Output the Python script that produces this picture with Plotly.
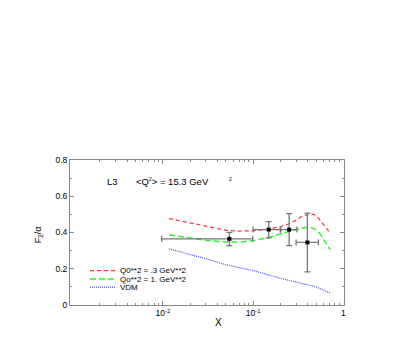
import plotly.graph_objects as go

# data points
pt_x = [0.0546, 0.149, 0.251, 0.40]
pt_y = [0.365, 0.416, 0.416, 0.345]
pt_xlo = [0.0097, 0.100, 0.200, 0.300]
pt_xhi = [0.099, 0.203, 0.306, 0.53]
pt_ylo = [0.328, 0.370, 0.328, 0.183]
pt_yhi = [0.401, 0.460, 0.504, 0.507]

# curves
red_x = [0.0117, 0.015, 0.02, 0.03, 0.05, 0.07, 0.1, 0.15, 0.2, 0.25, 0.3, 0.35, 0.42, 0.47, 0.53, 0.58, 0.65, 0.72]
red_y = [0.477, 0.465, 0.452, 0.435, 0.412, 0.408, 0.41, 0.42, 0.432, 0.448, 0.468, 0.49, 0.503, 0.5, 0.48, 0.455, 0.42, 0.395]
grn_x = [0.0117, 0.015, 0.02, 0.03, 0.05, 0.07, 0.1, 0.15, 0.2, 0.25, 0.3, 0.35, 0.42, 0.48, 0.55, 0.62, 0.68, 0.72]
grn_y = [0.387, 0.378, 0.368, 0.357, 0.348, 0.347, 0.355, 0.372, 0.392, 0.405, 0.415, 0.425, 0.43, 0.42, 0.395, 0.35, 0.32, 0.306]
vdm_x = [0.0117, 0.02, 0.03, 0.05, 0.1, 0.2, 0.3, 0.5, 0.72]
vdm_y = [0.31, 0.28, 0.255, 0.222, 0.19, 0.148, 0.128, 0.1, 0.065]

x_tickvals = [0.01, 0.1, 1]
x_ticktext = ["10<sup>-2</sup>", "10<sup>-1</sup>", "1"]
y_tickvals = [0, 0.2, 0.4, 0.6, 0.8]
y_ticktext = ["0", "0.2", "0.4", "0.6", "0.8"]

legend_names = ["Q0**2 = .3 GeV**2", "Qo**2 = 1. GeV**2", "VDM"]
legend_colors = ["#ff3333", "#33ee33", "#4d4dff"]
dashes = ["4px,3px", "6px,3px", "1px,1px"]

# plot-area geometry in page pixels (page has an 8px body margin)
PL, PR, PT, PB = 70, 344, 159.5, 305
OFF = 8
W, H = PR - PL, PB - PT

def px(xp):
    return (xp - PL) / W

def py(yp):
    return (PB - yp) / H

fig = go.Figure()
fig.add_trace(go.Scatter(x=red_x, y=red_y, mode="lines", line=dict(color=legend_colors[0], width=1.2, dash=dashes[0]), showlegend=False))
fig.add_trace(go.Scatter(x=grn_x, y=grn_y, mode="lines", line=dict(color=legend_colors[1], width=1.5, dash=dashes[1]), showlegend=False))
fig.add_trace(go.Scatter(x=vdm_x, y=vdm_y, mode="lines", line=dict(color=legend_colors[2], width=1.2, dash=dashes[2]), showlegend=False))

fig.add_trace(go.Scatter(
    x=pt_x, y=pt_y, mode="markers",
    marker=dict(color="black", size=4, symbol="square"),
    error_x=dict(type="data", symmetric=False,
                 array=[h - x for h, x in zip(pt_xhi, pt_x)],
                 arrayminus=[x - l for l, x in zip(pt_xlo, pt_x)],
                 color="#777777", thickness=1.3, width=3),
    error_y=dict(type="data", symmetric=False,
                 array=[h - y for h, y in zip(pt_yhi, pt_y)],
                 arrayminus=[y - l for l, y in zip(pt_ylo, pt_y)],
                 color="#777777", thickness=1.3, width=3),
    showlegend=False))

axis_col = "#888888"
tfont = dict(size=8.5, color="black", family="Liberation Sans")
fig.update_xaxes(type="log", range=[-3.03, 0.008], showgrid=False, zeroline=False,
                 showline=True, linecolor=axis_col, linewidth=1, mirror="ticks",
                 ticks="inside", ticklen=4, tickcolor=axis_col,
                 tickvals=x_tickvals, ticktext=x_ticktext, tickfont=tfont,
                 minor=dict(ticks="inside", ticklen=2, tickcolor=axis_col,
                            tickvals=[a * b for a in [0.001, 0.01, 0.1] for b in range(2, 10)]))
fig.update_yaxes(range=[0, 0.8], showgrid=False, zeroline=False,
                 showline=True, linecolor=axis_col, linewidth=1, mirror="ticks",
                 ticks="inside", ticklen=4, tickcolor=axis_col,
                 tickvals=y_tickvals, ticktext=y_ticktext, tickfont=tfont,
                 minor=dict(ticks="inside", ticklen=2, tickcolor=axis_col, dtick=0.1))

# manual legend
legend_y_px = [270.5, 279.0, 287.0]
for i, name in enumerate(legend_names):
    yp = py(legend_y_px[i])
    fig.add_shape(type="line", xref="paper", yref="paper",
                  x0=px(90), x1=px(115), y0=yp, y1=yp,
                  line=dict(color=legend_colors[i], width=1.2 if i != 1 else 1.5, dash=dashes[i]))
    fig.add_annotation(xref="paper", yref="paper", x=px(118), y=yp,
                       text=name, showarrow=False, xanchor="left", yanchor="middle",
                       font=dict(size=8, color="black", family="Liberation Sans"))

fig.add_annotation(xref="paper", yref="paper", x=px(105), y=py(181),
                   text="L3", showarrow=False, xanchor="left", yanchor="middle",
                   font=dict(size=9.5, color="black", family="Liberation Sans"))
fig.add_annotation(xref="paper", yref="paper", x=px(134), y=py(181),
                   text="&lt;Q<sup><span style='font-size:5px'>2</span></sup>&gt; = 15.3 GeV", showarrow=False,
                   xanchor="left", yanchor="middle",
                   font=dict(size=9.5, color="black", family="Liberation Sans"))
fig.add_annotation(xref="paper", yref="paper", x=px(227), y=py(178.5),
                   text="2", showarrow=False, xanchor="left", yanchor="middle",
                   font=dict(size=5, color="black", family="Liberation Sans"))
fig.add_annotation(xref="paper", yref="paper", x=px(38), y=py(235),
                   text="F<sub>2</sub>/α", showarrow=False, textangle=-90,
                   xanchor="center", yanchor="middle",
                   font=dict(size=9, color="black", family="Liberation Sans"))
fig.add_annotation(xref="paper", yref="paper", x=px(219), y=py(323),
                   text="X", showarrow=False, xanchor="center", yanchor="middle",
                   font=dict(size=10, color="black", family="Liberation Sans"))

fig.update_layout(width=415, height=346,
                  margin=dict(l=PL - OFF, r=415 - (PR - OFF), t=PT - OFF, b=346 - (PB - OFF)),
                  paper_bgcolor="white", plot_bgcolor="white", showlegend=False)
fig.write_html("out.html")
